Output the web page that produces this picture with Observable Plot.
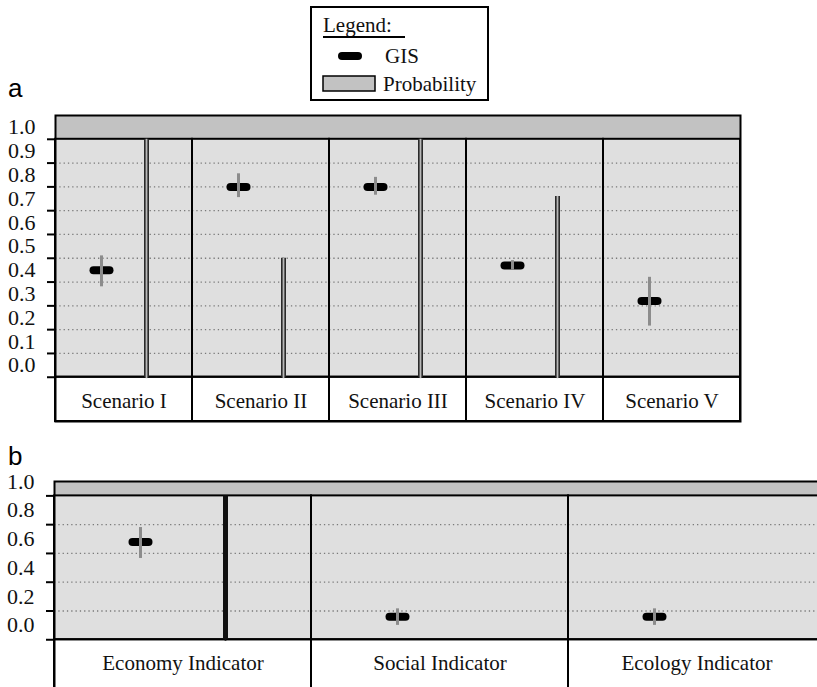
<!DOCTYPE html>
<html><head><meta charset="utf-8">
<script src="https://cdn.jsdelivr.net/npm/d3@7"></script>
<script src="https://cdn.jsdelivr.net/npm/@observablehq/plot@0.6"></script>
<style>
html,body{margin:0;padding:0;background:#fff;}
body{width:817px;height:687px;overflow:hidden;position:relative;font-family:"Liberation Serif",serif;}
.abs{position:absolute;}
#overlay{position:absolute;left:0;top:0;pointer-events:none;}
svg{max-width:none !important;}
</style></head><body>
<div id="pa" class="abs" style="left:0;top:100px;"></div>
<div id="pb" class="abs" style="left:0;top:465px;width:840px;"></div>
<svg id="overlay" width="817" height="687"></svg>
<script>
// ---- data ----
const scenarios = ["Scenario I", "Scenario II", "Scenario III", "Scenario IV", "Scenario V"];
const gisA      = [0.40, 0.75, 0.75, 0.42, 0.27];
const gisALow   = [0.33, 0.705, 0.715, 0.40, 0.165];
const gisAHigh  = [0.46, 0.805, 0.79, 0.44, 0.37];
const probA     = [1.0, 0.5, 1.0, 0.76, 0];
const tickLabelsA = [0.0, 0.1, 0.2, 0.3, 0.4, 0.5, 0.6, 0.7, 0.8, 0.9, 1.0];

const indicators = ["Economy Indicator", "Social Indicator", "Ecology Indicator"];
const gisB      = [0.58, 0.06, 0.06];
const gisBLow   = [0.465, 0.0, 0.0];
const gisBHigh  = [0.68, 0.115, 0.115];
const probB     = [1.0, 0, 0];
const tickLabelsB = [0.0, 0.2, 0.4, 0.6, 0.8, 1.0];

const legendItems = ["GIS", "Probability"];

// ---- helpers ----
const SERIF = "Liberation Serif";
const capsule = {draw(ctx) { ctx.moveTo(-8, 0); ctx.lineTo(8, 0); }};

function panel(cfg) {
  const rows = cfg.cats.map((c, i) => ({cat: c, gis: cfg.gis[i], lo: cfg.lo[i], hi: cfg.hi[i], prob: cfg.prob[i]}));
  const step = cfg.labels[1] - cfg.labels[0];
  const base = cfg.labels[0] - step / 2;            // bottom of plotting area
  const top = cfg.labels[cfg.labels.length - 1] - step / 2; // top of plotting area (start of grey band)
  const bandTop = cfg.bandTop;
  const bounds = d3.range(cfg.labels.length).map(k => base + k * step);
  const inner = bounds.slice(1, -1);
  const py = d => base + d.prob * (top - base);
  return Plot.plot({
    width: cfg.width, height: cfg.height,
    marginLeft: 53, marginRight: cfg.marginRight, marginTop: cfg.marginTop, marginBottom: 4,
    style: {fontFamily: SERIF, fontSize: "21px", background: "transparent", color: "black", maxWidth: "none"},
    fx: {domain: cfg.cats, padding: 0, axis: null},
    x: {type: "point", domain: legendItems, padding: 1, axis: null},
    y: {domain: [cfg.rowBottom, bandTop]},
    marks: [
      Plot.rect(rows, {fx: "cat", y1: base, y2: top, fill: "#dfdfdf"}),
      Plot.rect(rows, {fx: "cat", y1: top, y2: bandTop, fill: "#c2c2c2"}),
      Plot.rect(rows, {fx: "cat", y1: cfg.rowBottom, y2: base, fill: "white", stroke: "black", strokeWidth: 2}),
      Plot.gridY(inner, {stroke: "#7a7a7a", strokeOpacity: 1, strokeWidth: 1.3, strokeDasharray: "1.3,3"}),
      Plot.rect(rows, {fx: "cat", y1: base, y2: top, fill: "none", stroke: "black", strokeWidth: 2}),
      Plot.ruleX(rows.filter(d => d.prob > 0), {fx: "cat", x: () => "Probability", y1: base, y2: py, stroke: cfg.barOuter, strokeWidth: 5}),
      Plot.ruleX(rows.filter(d => d.prob > 0), {fx: "cat", x: () => "Probability", y1: base, y2: py, stroke: cfg.barInner, strokeWidth: 1.8, insetTop: 1.5}),
      Plot.dot(rows, {fx: "cat", x: () => "GIS", y: "gis", symbol: capsule, fill: "none", stroke: "black", strokeWidth: 8, strokeLinecap: "round"}),
      Plot.ruleX(rows, {fx: "cat", x: () => "GIS", y1: "lo", y2: "hi", stroke: "#8c8c8c", strokeWidth: 3}),
      Plot.text(rows, {fx: "cat", text: "cat", y: base, dy: 24, frameAnchor: "middle", fontSize: 21, fontFamily: SERIF, fill: "#111"}),
      Plot.axisY({ticks: bounds, tickSize: 8, tickFormat: () => "", strokeWidth: 2}),
      Plot.axisY({ticks: cfg.labels, tickSize: 0, tickPadding: 20, tickFormat: d3.format(".1f"), fontSize: 22, fontFamily: SERIF, fontVariant: "normal", fill: "#111"}),
      Plot.frame({facet: "super", stroke: "black", strokeWidth: 2})
    ]
  });
}

document.getElementById("pa").append(panel({
  cats: scenarios, gis: gisA, lo: gisALow, hi: gisAHigh, prob: probA, labels: tickLabelsA,
  bandTop: 1.05, rowBottom: -0.236, width: 817, marginRight: 75, marginTop: 15, height: 325,
  barOuter: "#2a2a2a", barInner: "#b8b8b8"
}));
document.getElementById("pb").append(panel({
  cats: indicators, gis: gisB, lo: gisBLow, hi: gisBHigh, prob: probB, labels: tickLabelsB,
  bandTop: 1.0, rowBottom: -0.55, width: 830, marginRight: 4, marginTop: 16, height: 243,
  barOuter: "#111", barInner: "#111"
}));

// ---- overlay: panel letters and legend ----
const ov = d3.select("#overlay");
ov.append("text").attr("x", 8).attr("y", 97).attr("font-family", "'Liberation Sans', sans-serif").attr("font-size", 26).text("a");
ov.append("text").attr("x", 8).attr("y", 465).attr("font-family", "'Liberation Sans', sans-serif").attr("font-size", 26).text("b");
const lg = ov.append("g").attr("font-family", "'Liberation Serif', serif").attr("font-size", 21).attr("fill", "#111");
lg.append("rect").attr("x", 311).attr("y", 7).attr("width", 177).attr("height", 93).attr("fill", "white").attr("stroke", "black").attr("stroke-width", 2);
lg.append("text").attr("x", 323).attr("y", 32).text("Legend:");
lg.append("line").attr("x1", 323).attr("x2", 405).attr("y1", 37).attr("y2", 37).attr("stroke", "black").attr("stroke-width", 2);
lg.append("line").attr("x1", 342).attr("x2", 358).attr("y1", 56).attr("y2", 56).attr("stroke", "black").attr("stroke-width", 8).attr("stroke-linecap", "round");
lg.append("text").attr("x", 385).attr("y", 63).text(legendItems[0]);
lg.append("rect").attr("x", 323).attr("y", 76).attr("width", 52).attr("height", 15).attr("fill", "#c2c2c2").attr("stroke", "black").attr("stroke-width", 1.5);
lg.append("text").attr("x", 383).attr("y", 91).text(legendItems[1]);
</script>
</body></html>
